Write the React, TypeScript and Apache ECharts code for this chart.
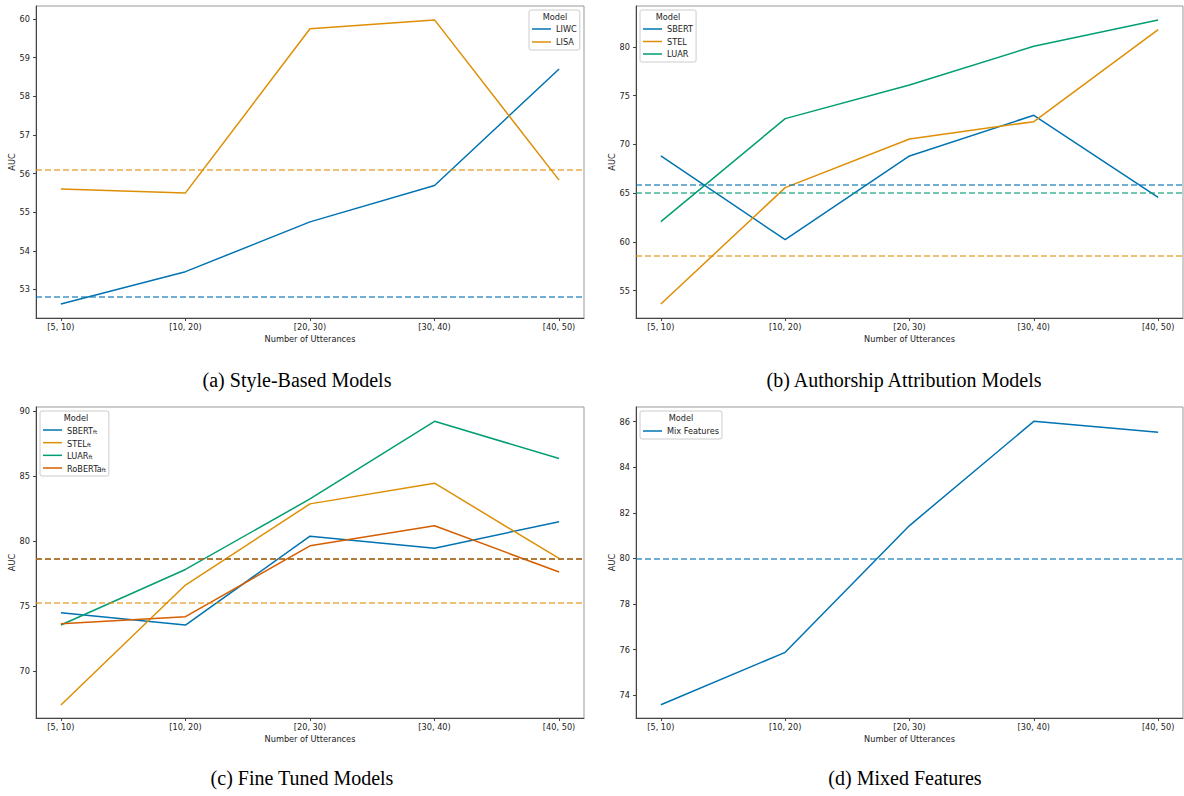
import React, { useEffect, useRef } from "react";
import * as echarts from "echarts";

// ---- data ----
const categories = ["[5, 10)", "[10, 20)", "[20, 30)", "[30, 40)", "[40, 50)"];

// (a) Style-Based Models
const liwc = [52.62, 53.46, 54.75, 55.69, 58.71];
const lisa = [55.6, 55.5, 59.75, 59.98, 55.83];
const liwcBaseline = 52.81;
const lisaBaseline = 56.09;

// (b) Authorship Attribution Models
const sbert = [68.82, 60.23, 68.82, 72.99, 64.58];
const stel = [53.63, 65.57, 70.56, 72.34, 81.78];
const luar = [62.08, 72.65, 76.1, 80.07, 82.77];
const sbertBaseline = 65.87;
const stelBaseline = 58.59;
const luarBaseline = 65.0;

// (c) Fine Tuned Models
const sbertFt = [74.48, 73.54, 80.38, 79.46, 81.49];
const stelFt = [67.38, 76.62, 82.87, 84.46, 78.67];
const luarFt = [73.54, 77.82, 83.25, 89.23, 86.36];
const robertaFt = [73.64, 74.18, 79.64, 81.18, 77.62];
const sbertFtBaseline = 78.65;
const stelFtBaseline = 75.25;
const luarFtBaseline = 78.65;
const robertaFtBaseline = 78.65;

// (d) Mixed Features
const mixFeatures = [73.58, 75.88, 81.44, 86.01, 85.53];
const mixBaseline = 80.0;

// tick labels
const yTicksA = [53, 54, 55, 56, 57, 58, 59, 60];
const yTicksB = [55, 60, 65, 70, 75, 80];
const yTicksC = [70, 75, 80, 85, 90];
const yTicksD = [74, 76, 78, 80, 82, 84, 86];

const captions = [
  "(a) Style-Based Models",
  "(b) Authorship Attribution Models",
  "(c) Fine Tuned Models",
  "(d) Mixed Features",
];

const BLUE = "#0173b2";
const ORANGE = "#de8f05";
const GREEN = "#029e73";
const RED = "#d55e00";

const FONT = "DejaVu Sans";

function hexA(hex: string, a: number) {
  const r = parseInt(hex.slice(1, 3), 16);
  const g = parseInt(hex.slice(3, 5), 16);
  const b = parseInt(hex.slice(5, 7), 16);
  return `rgba(${r},${g},${b},${a})`;
}

export default function App() {
  const ref = useRef<HTMLDivElement>(null);

  useEffect(() => {
    document.body.style.margin = "0";
    if (!ref.current) return;
    const chart = echarts.init(ref.current, null, { renderer: "svg" });

    const grids = [
      { left: 36, top: 6, width: 548, height: 312 },
      { left: 636, top: 6, width: 547, height: 312 },
      { left: 36, top: 407, width: 548, height: 311 },
      { left: 636, top: 407, width: 547, height: 311 },
    ];
    const yRanges = [
      [52.26, 60.34],
      [52.2, 84.2],
      [66.38, 90.33],
      [73.0, 86.64],
    ];
    const yTicks = [yTicksA, yTicksB, yTicksC, yTicksD];
    const idx = categories.map((_, i) => i);

    const xAxes = grids.map((_, g) => ({
      type: "value",
      gridIndex: g,
      min: -0.2,
      max: 4.2,
      splitLine: { show: false },
      axisLine: { show: true, onZero: false, lineStyle: { color: "#444", width: 1 } },
      axisTick: { show: true, length: 3, customValues: idx, lineStyle: { color: "#444" } },
      axisLabel: {
        customValues: idx,
        formatter: (v: number) => categories[Math.round(v)] ?? "",
        fontSize: 8.2,
        fontFamily: FONT,
        color: "#222",
        margin: 5,
      },
      name: "Number of Utterances",
      nameLocation: "middle",
      nameGap: 17,
      nameTextStyle: { fontSize: 8.2, fontFamily: FONT, color: "#222", verticalAlign: "top" },
    }));

    const yAxes = grids.map((_, g) => ({
      type: "value",
      gridIndex: g,
      min: yRanges[g][0],
      max: yRanges[g][1],
      splitLine: { show: false },
      axisLine: { show: true, onZero: false, lineStyle: { color: "#444", width: 1 } },
      axisTick: { show: true, length: 3, customValues: yTicks[g], lineStyle: { color: "#444" } },
      axisLabel: {
        customValues: yTicks[g],
        fontSize: 8.2,
        fontFamily: FONT,
        color: "#222",
        margin: 6,
      },
      name: "AUC",
      nameLocation: "middle",
      nameGap: 20,
      nameTextStyle: { fontSize: 8.2, fontFamily: FONT, color: "#222" },
    }));

    const mk = (
      name: string,
      data: number[],
      color: string,
      g: number,
      baseline: number,
      dashAlpha = 0.75,
      z = 2
    ) => ({
      type: "line",
      name,
      xAxisIndex: g,
      yAxisIndex: g,
      z,
      data: data.map((v, i) => [i, v]),
      showSymbol: false,
      symbol: "none",
      lineStyle: { color, width: 1.5 },
      itemStyle: { color },
      emphasis: { disabled: true },
      markLine: {
        silent: true,
        symbol: "none",
        label: { show: false },
        emphasis: { disabled: true },
        lineStyle: { type: [6, 3], width: 1.5, color: hexA(color, dashAlpha) },
        data: [{ yAxis: baseline }],
      },
    });

    const series = [
      mk("LIWC", liwc, BLUE, 0, liwcBaseline),
      mk("LISA", lisa, ORANGE, 0, lisaBaseline),
      mk("SBERT", sbert, BLUE, 1, sbertBaseline),
      mk("STEL", stel, ORANGE, 1, stelBaseline),
      mk("LUAR", luar, GREEN, 1, luarBaseline),
      mk("SBERTft", sbertFt, BLUE, 2, sbertFtBaseline, 0.5),
      mk("STELft", stelFt, ORANGE, 2, stelFtBaseline),
      mk("LUARft", luarFt, GREEN, 2, luarFtBaseline, 0.5),
      mk("RoBERTaft", robertaFt, RED, 2, robertaFtBaseline, 0.92, 3),
      mk("Mix Features", mixFeatures, BLUE, 3, mixBaseline),
    ];

    const legendBase = {
      orient: "vertical",
      selectedMode: false,
      icon: "rect",
      itemWidth: 19,
      itemHeight: 1.5,
      backgroundColor: "rgba(255,255,255,0.8)",
      borderColor: "#ccc",
      borderWidth: 1,
      borderRadius: 2,
      textStyle: {
        fontSize: 8.2,
        fontFamily: FONT,
        color: "#222",
        lineHeight: 10,
        rich: {
          base: { fontSize: 8.2, fontFamily: FONT, color: "#222", lineHeight: 10, verticalAlign: "bottom" },
          sub: { fontSize: 5.5, fontFamily: FONT, color: "#222", lineHeight: 8, verticalAlign: "bottom" },
        },
      },
      formatter: (name: string) =>
        name.endsWith("ft") ? `{base|${name.slice(0, -2)}}{sub|ft}` : name,
    };

    const legends = [
      { ...legendBase, left: 529, top: 10, padding: [14, 3, 3, 3], itemGap: 3, data: ["LIWC", "LISA"] },
      { ...legendBase, left: 640, top: 10, padding: [14, 3, 3, 3], itemGap: 2.5, data: ["SBERT", "STEL", "LUAR"] },
      {
        ...legendBase,
        left: 40,
        top: 411,
        padding: [14, 3, 3, 3],
        itemGap: 2.67,
        data: ["SBERTft", "STELft", "LUARft", "RoBERTaft"],
      },
      { ...legendBase, left: 640, top: 411, padding: [15, 3, 3, 3], itemGap: 3, data: ["Mix Features"] },
    ];

    const titleStyle = {
      fontSize: 8.2,
      fontFamily: FONT,
      fontWeight: "normal",
      fill: "#222",
      textAlign: "center",
      textVerticalAlign: "middle",
    };
    const captionStyle = {
      fontSize: 20,
      fontFamily: "Liberation Serif",
      fontWeight: "normal",
      fill: "#000",
      textAlign: "center",
      textVerticalAlign: "middle",
    };

    const option: any = {
      animation: false,
      grid: grids.map((g) => ({ ...g, show: true, borderColor: "#999", borderWidth: 1, backgroundColor: "transparent" })),
      xAxis: xAxes,
      yAxis: yAxes,
      legend: legends,
      series,
      graphic: [
        { type: "text", x: 555, y: 17, z: 100, style: { ...titleStyle, text: "Model" } },
        { type: "text", x: 668, y: 17, z: 100, style: { ...titleStyle, text: "Model" } },
        { type: "text", x: 76, y: 418, z: 100, style: { ...titleStyle, text: "Model" } },
        { type: "text", x: 681, y: 418, z: 100, style: { ...titleStyle, text: "Model" } },
        { type: "text", x: 297, y: 380, style: { ...captionStyle, text: captions[0] } },
        { type: "text", x: 904, y: 380, style: { ...captionStyle, text: captions[1] } },
        { type: "text", x: 302, y: 778, style: { ...captionStyle, text: captions[2] } },
        { type: "text", x: 905, y: 778, style: { ...captionStyle, text: captions[3] } },
      ],
    };

    chart.setOption(option);
    return () => chart.dispose();
  }, []);

  return <div ref={ref} style={{ width: 1184, height: 796 }} />;
}
